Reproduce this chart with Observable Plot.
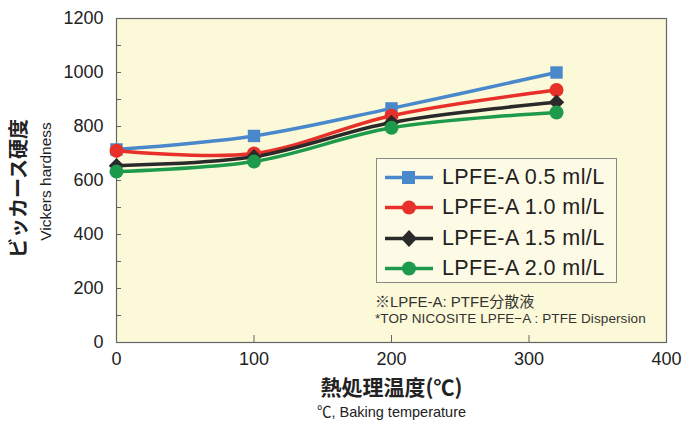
<!DOCTYPE html>
<html>
<head>
<meta charset="utf-8">
<script src="https://cdn.jsdelivr.net/npm/d3@7"></script>
<script src="https://cdn.jsdelivr.net/npm/@observablehq/plot@0.6"></script>
<style>
  html, body { margin: 0; padding: 0; background: #fff; }
  #wrap { position: relative; width: 684px; height: 423px; font-family: "Liberation Sans", Arial, sans-serif; }
  #legend { position: absolute; left: 376px; top: 158px; width: 241px; height: 125px; border: 1px solid #888; background: #fdfbe6; box-sizing: border-box; padding: 3px 0 0 8px; }
  .row { display: flex; align-items: center; height: 30.5px; font-size: 21.5px; letter-spacing: 0.4px; color: #222; }
  .row svg { margin-right: 9px; }
  .note1 { position: absolute; left: 375px; top: 290px; font-size: 15px; color: #333; font-family: "Liberation Sans", "Noto Sans CJK JP", sans-serif; }
  .note2 { position: absolute; left: 375px; top: 311px; font-size: 13.5px; color: #333; letter-spacing: 0.1px; }
</style>
</head>
<body>
<div id="wrap"></div>
<script>
const temps = [0, 100, 200, 320];
const seriesNames = ["LPFE-A 0.5 ml/L", "LPFE-A 1.0 ml/L", "LPFE-A 1.5 ml/L", "LPFE-A 2.0 ml/L"];
const hard05 = [715, 765, 867, 1000];
const hard10 = [710, 700, 840, 935];
const hard15 = [655, 688, 815, 890];
const hard20 = [633, 670, 795, 852];
const colors = ["#4a88cc", "#e8302a", "#2a2a2a", "#1d9a4c"];
const symbols = ["square", "circle", "diamond2", "circle"];
const yTicks = [0, 200, 400, 600, 800, 1000, 1200];
const yMinor = [100, 200, 300, 400, 500, 600, 700, 800, 900, 1000, 1100];
const xTicks = [0, 100, 200, 300, 400];
const xMinor = [100, 200, 300];
const xTitle = "熱処理温度(℃)";
const xSub = "℃, Baking temperature";
const yTitle = "ビッカース硬度";
const ySub = "Vickers hardness";

const all = [hard05, hard10, hard15, hard20];
const rows = [];
all.forEach((vals, i) => vals.forEach((v, j) => rows.push({series: seriesNames[i], t: temps[j], h: v})));

const chart = Plot.plot({
  width: 684,
  height: 423,
  marginLeft: 116,
  marginRight: 18,
  marginTop: 18,
  marginBottom: 81,
  style: {fontFamily: "'Liberation Sans', Arial, sans-serif", background: "#fff"},
  x: {domain: [0, 400]},
  y: {domain: [0, 1200]},
  color: {domain: seriesNames, range: colors},
  symbol: {domain: seriesNames, range: symbols},
  marks: [
    Plot.frame({fill: "#fcf9d8", stroke: null}),
    Plot.axisY(yTicks, {tickSize: 0, tickPadding: 13, fontSize: 18, fill: "#222", label: null, tickFormat: d => String(d)}),
    Plot.axisY(yMinor, {tickSize: -5, text: null, stroke: "#666", label: null}),
    Plot.axisX(xTicks, {tickSize: 0, tickPadding: 10, fontSize: 18, fill: "#222", label: null, tickFormat: d => String(d)}),
    Plot.axisX(xMinor, {tickSize: -7, text: null, stroke: "#666", label: null}),
    Plot.frame({stroke: "#666", strokeWidth: 1.2}),
    Plot.line(rows, {x: "t", y: "h", stroke: "series", z: "series", strokeWidth: 3.5, curve: "catmull-rom"}),
    Plot.dot(rows, {x: "t", y: "h", fill: "series", symbol: "series", r: 7, stroke: null}),
    Plot.text([xTitle], {frameAnchor: "bottom", lineAnchor: "middle", dy: 46, fontSize: 21, fontWeight: "bold", fill: "#222", fontFamily: "'Noto Sans CJK JP', sans-serif"}),
    Plot.text([xSub], {frameAnchor: "bottom", lineAnchor: "middle", dy: 70, fontSize: 14.5, fill: "#222", fontFamily: "'Liberation Sans', 'Noto Sans CJK JP', sans-serif"}),
    Plot.text([yTitle], {frameAnchor: "left", textAnchor: "middle", lineAnchor: "middle", dx: -97, dy: 8, rotate: -90, fontSize: 20, fontWeight: "bold", fill: "#222", fontFamily: "'Noto Sans CJK JP', sans-serif"}),
    Plot.text([ySub], {frameAnchor: "left", textAnchor: "middle", lineAnchor: "middle", dx: -70, dy: 1, rotate: -90, fontSize: 15.5, fill: "#222"})
  ]
});

const wrap = document.getElementById("wrap");
wrap.appendChild(chart);

const legend = document.createElement("div");
legend.id = "legend";
seriesNames.forEach((name, i) => {
  const row = document.createElement("div");
  row.className = "row";
  let marker;
  if (symbols[i] === "square") marker = `<rect x="17" y="4" width="13" height="13" fill="${colors[i]}"/>`;
  else if (symbols[i] === "diamond2") marker = `<path d="M24 2 L32 10.5 L24 19 L16 10.5 Z" fill="${colors[i]}"/>`;
  else marker = `<circle cx="24" cy="10.5" r="7" fill="${colors[i]}"/>`;
  row.innerHTML = `<svg width="48" height="21"><line x1="0" y1="10.5" x2="48" y2="10.5" stroke="${colors[i]}" stroke-width="3.5"/>${marker}</svg><span>${name}</span>`;
  legend.appendChild(row);
});
wrap.appendChild(legend);

const n1 = document.createElement("div");
n1.className = "note1";
n1.textContent = "※LPFE-A: PTFE分散液";
wrap.appendChild(n1);
const n2 = document.createElement("div");
n2.className = "note2";
n2.textContent = "*TOP NICOSITE LPFE−A : PTFE Dispersion";
wrap.appendChild(n2);
</script>
</body>
</html>
